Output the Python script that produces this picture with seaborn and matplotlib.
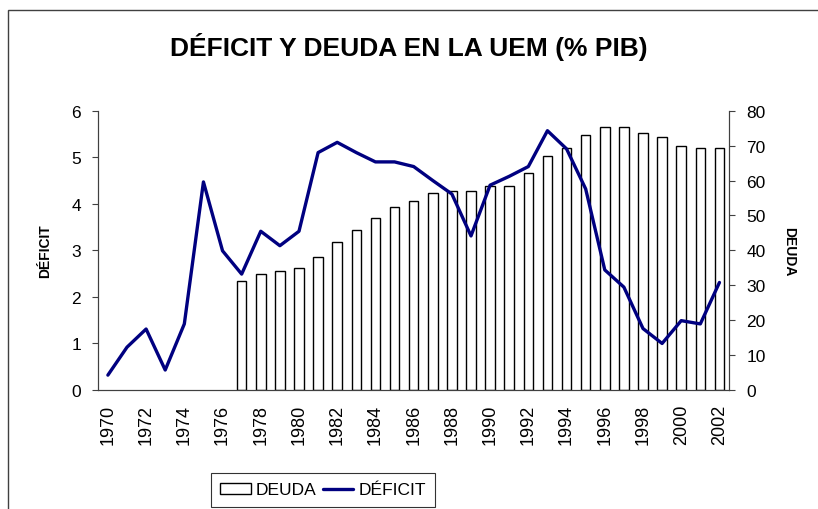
import seaborn as sns
import pandas as pd
import numpy as np
import matplotlib.pyplot as plt
from matplotlib.patches import Patch, Rectangle
from matplotlib.lines import Line2D

years = list(range(1970, 2003))
deficit = [0.32, 0.92, 1.31, 0.43, 1.42, 4.47, 2.99, 2.49, 3.41, 3.10, 3.41,
           5.10, 5.32, 5.10, 4.90, 4.90, 4.80, 4.50, 4.21, 3.31, 4.40, 4.59,
           4.80, 5.57, 5.18, 4.32, 2.58, 2.21, 1.32, 1.00, 1.49, 1.42, 2.31]
deuda = [np.nan] * 7 + [31.3, 33.1, 34.0, 34.9, 38.2, 42.3, 45.9, 49.3, 52.4,
                        54.2, 56.5, 57.0, 57.0, 58.4, 58.4, 62.1, 67.1, 69.4,
                        73.1, 75.4, 75.4, 73.6, 72.6, 69.8, 69.4, 69.4]
year_labels = [str(y) for y in years]

sns.set_style("white")
plt.rcParams['font.family'] = ['Liberation Sans', 'DejaVu Sans']
plt.rcParams.update({'text.color': 'black', 'axes.labelcolor': 'black',
                     'xtick.color': 'black', 'ytick.color': 'black'})

df = pd.DataFrame({'year': year_labels, 'deficit': deficit, 'deuda': deuda})
df['pos'] = np.arange(len(df))

fig = plt.figure(figsize=(8.18, 5.10), dpi=100)
ax = fig.add_axes([0.1202, 0.2333, 0.8912 - 0.1202, 0.781 - 0.2333])
ax2 = ax.twinx()

# barras de deuda en el eje secundario
sns.barplot(data=df.dropna(), x='year', y='deuda', order=year_labels, ax=ax2,
            color='white', edgecolor='black', linewidth=1.0, width=0.5,
            saturation=1)
# linea del deficit encima
ax.set_zorder(ax2.get_zorder() + 1)
ax.patch.set_visible(False)
sns.lineplot(data=df, x='pos', y='deficit', ax=ax, color='#000080', linewidth=2.4)

ax.set_xlim(-0.5, len(years) - 0.5)
ax2.set_xlim(-0.5, len(years) - 0.5)
ax.set_ylim(0, 6)
ax2.set_ylim(0, 80)
ax.set_yticks(range(0, 7))
ax2.set_yticks(range(0, 81, 10))

ax.set_xticks(df['pos'][::2])
ax.set_xticklabels(year_labels[::2], rotation=90)
ax.set_xticks(np.arange(-0.5, len(years)), minor=True)
ax.tick_params(axis='x', which='major', length=0, pad=10, labelsize=13)
ax.tick_params(axis='x', which='minor', length=4, width=0.8, color='#404040', direction='out')
ax.tick_params(axis='y', length=4.5, width=0.8, color='#404040', pad=8, labelsize=12.5, left=True)
ax2.tick_params(axis='y', length=4.5, width=0.8, color='#404040', pad=8, labelsize=12.5, right=True)
ax2.tick_params(axis='x', bottom=False, labelbottom=False)
ax2.set_xlabel('')

for a in (ax, ax2):
    a.spines['top'].set_visible(False)
    for s in ('left', 'right', 'bottom'):
        a.spines[s].set_color('#404040')
        a.spines[s].set_linewidth(0.8)

ax.set_xlabel('')
ax.set_ylabel('DÉFICIT', fontsize=10, fontweight='bold', labelpad=14)
ax2.set_ylabel('DEUDA', fontsize=10, fontweight='bold', rotation=270, labelpad=22)

fig.text(0.5, 0.908, 'DÉFICIT Y DEUDA EN LA UEM (% PIB)', ha='center', va='center',
         fontsize=19, fontweight='bold')

handles = [Patch(facecolor='white', edgecolor='black', linewidth=1.0),
           Line2D([0], [0], color='#000080', linewidth=2.4)]
leg = fig.legend(handles, ['DEUDA', 'DÉFICIT'], loc='center', ncol=2,
                 bbox_to_anchor=(323 / 818, 1 - 491 / 510), fontsize=12.5,
                 frameon=True, fancybox=False, handlelength=1.75, handleheight=0.6,
                 handletextpad=0.3, columnspacing=0.35, borderpad=0.55,
                 borderaxespad=0)
leg.get_frame().set_edgecolor('black')
leg.get_frame().set_linewidth(0.8)

# borde del area del grafico
fig.patches.append(Rectangle((8 / 818, -0.05), 1.1, 1 - 11 / 510 + 0.05,
                             transform=fig.transFigure, fill=False,
                             edgecolor='#404040', linewidth=1.0))

fig.savefig('out.png', dpi=100)
